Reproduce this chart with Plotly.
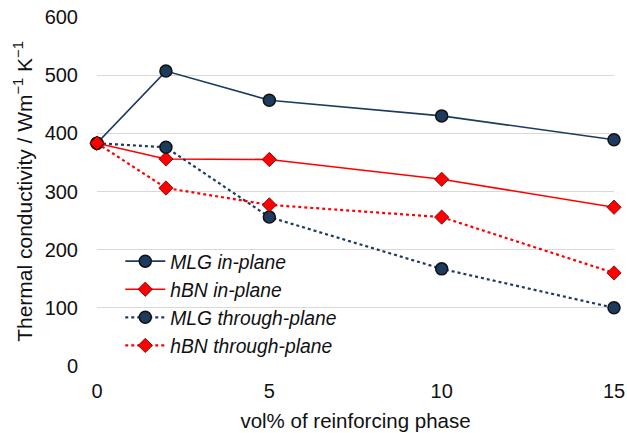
import plotly.graph_objects as go

x_vals = [0, 2, 5, 10, 15]
mlg_in = [383, 507, 457, 430, 389]
hbn_in = [383, 356, 355, 321, 273]
mlg_through = [383, 376, 256, 167, 100]
hbn_through = [383, 306, 277, 256, 160]
x_ticks = [0, 5, 10, 15]
y_ticks = [0, 100, 200, 300, 400, 500, 600]

navy = "#1d3a5f"
red = "#ff0000"

fig = go.Figure()
series = [
    ("MLG in-plane", mlg_in, navy, "solid", "circle"),
    ("hBN in-plane", hbn_in, red, "solid", "diamond"),
    ("MLG through-plane", mlg_through, navy, "dot", "circle"),
    ("hBN through-plane", hbn_through, red, "dot", "diamond"),
]
for name, ys, col, dash, sym in series:
    is_c = sym == "circle"
    fig.add_trace(go.Scatter(
        x=x_vals, y=ys, name=name, mode="lines+markers",
        line=dict(color=col, width=1.6 if dash == "solid" else 2.2, dash=dash),
        marker=dict(symbol=sym, size=12 if is_c else 11, color=col,
                    line=dict(color="#111111" if is_c else "#660000",
                              width=1.5 if is_c else 0.8)),
    ))

fig.update_layout(
    width=627, height=433,
    margin=dict(l=97, r=13, t=17, b=67, autoexpand=False),
    paper_bgcolor="white", plot_bgcolor="white",
    font=dict(family="Liberation Sans, Arial, sans-serif", color="#111111", size=20),
    xaxis=dict(range=[0, 15], tickvals=x_ticks, showgrid=False, zeroline=False,
               showline=False, ticks="", tickfont=dict(size=20), automargin=False,
               ticklabelstandoff=11,
               title=dict(text="vol% of reinforcing phase", font=dict(size=20.5), standoff=12)),
    yaxis=dict(range=[0, 600], tickvals=y_ticks, showgrid=True, gridcolor="#d9d9d9",
               gridwidth=1.3, zeroline=False, showline=False, ticks="", automargin=False,
               tickfont=dict(size=20), ticklabelstandoff=18,
               title=dict(text="Thermal conductivity / Wm<sup>−1</sup> K<sup>−1</sup>",
                          font=dict(size=21), standoff=6)),
    legend=dict(x=0.045, y=0.355, xanchor="left", yanchor="top",
                bgcolor="rgba(0,0,0,0)", font=dict(size=19.3, style="italic"),
                itemwidth=40, tracegroupgap=0),
    showlegend=True,
)
fig.update_traces(cliponaxis=False)
fig.write_html("out.html")
